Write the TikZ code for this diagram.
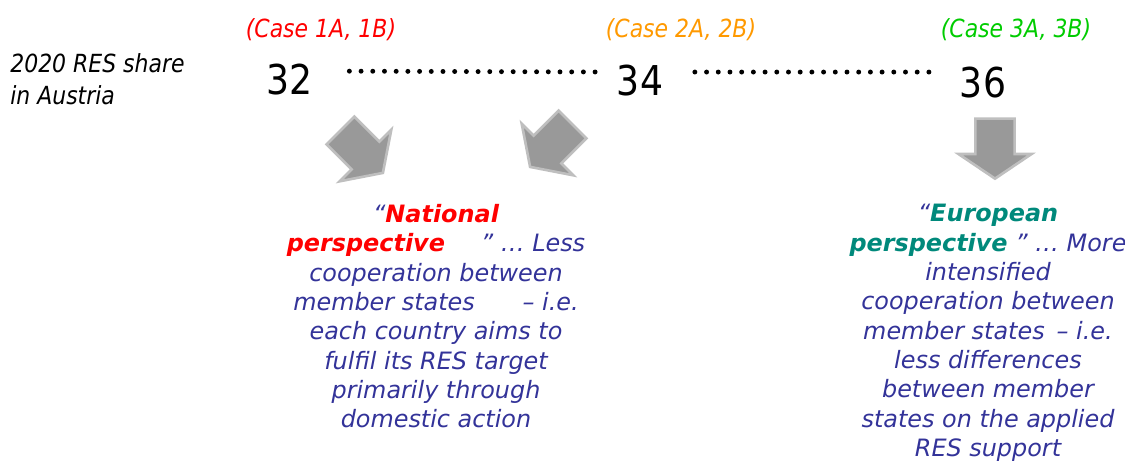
\documentclass[tikz,border=0pt]{standalone}
\usepackage{fontspec}
\setmainfont{DejaVu Sans}
\newfontfamily\condfont{DejaVu Sans}[FakeStretch=0.88]
\usetikzlibrary{shapes.arrows,positioning}
\definecolor{bodyblue}{HTML}{333399}
\definecolor{caseorange}{HTML}{FF9900}
\definecolor{casegreen}{HTML}{00CC00}
\definecolor{eurteal}{HTML}{00897B}
\tikzstyle{case} = [anchor=base, inner sep=0pt, font=\condfont\itshape\fontsize{14.2}{17}\selectfont]
\tikzstyle{num} = [anchor=base, inner sep=0pt, font=\condfont\fontsize{23.4}{28}\selectfont]
\tikzstyle{lbl} = [anchor=north west, align=left, inner sep=0pt, font=\condfont\itshape\fontsize{14.2}{18.2}\selectfont]
\tikzstyle{txt} = [anchor=north, align=center, inner sep=0pt, text=bodyblue, font=\itshape\fontsize{13.6}{16.7}\selectfont]
\tikzstyle{blk} = [single arrow, draw=black!25, fill=black!40, line width=1.5pt, inner xsep=0pt, inner ysep=0.3cm, minimum height=1.2cm, minimum width=1.46cm, single arrow head extend=0.28cm, single arrow tip angle=112]
\tikzstyle{dots} = [line width=2.8pt, line cap=round, dash pattern=on 0pt off 6.66pt]

\begin{document}
\begin{tikzpicture}[x=0.02cm,y=-0.02cm]
			\useasboundingbox (0,0) rectangle (1125,464);
			\node[case,text=red](c1) at (321,37){(Case 1A, 1B)};
			\node[case,text=caseorange](c2) at (681,37){(Case 2A, 2B)};
			\node[case,text=casegreen](c3) at (1016,37){(Case 3A, 3B)};
			\node[lbl](share) at (10,53){2020 RES share\\in Austria};
			\node[num](n32) at (290,94){32};
			\node[num](n34) at (640,95){34};
			\node[num](n36) at (983,97){36};
			
			\draw[dots,shorten <=0.72cm,shorten >=0.43cm] ([yshift=0.16cm]n32.east)--([yshift=0.16cm]n34.west);
			\draw[dots,shorten <=0.63cm,shorten >=0.39cm] ([yshift=0.16cm]n34.east)--([yshift=0.2cm]n36.west);
			
			\node[blk,rotate=-45](a1) at (357,147){};
			\node[blk,rotate=-135](a2) at (556,141){};
			\node[blk,rotate=-90](a3) at (995,142){};
			
			\node[txt](nat) at (436,204){“\textcolor{red}{\bfseries National}\\
				\textcolor{red}{\bfseries perspective}\hspace{1.5em}” … Less\\
				cooperation between\\
				member states\hspace{2em}– i.e.\\
				each country aims to\\
				fulfil its RES target\\
				primarily through\\
				domestic action};
			\node[txt](eur) at (988,204){“\textcolor{eurteal}{\bfseries European}\\
				\textcolor{eurteal}{\bfseries perspective} ” … More\\
				intensified\\
				cooperation between\\
				member states\hspace{0.5em}– i.e.\\
				less differences\\
				between member\\
				states on the applied\\
				RES support};
\end{tikzpicture}
\end{document}
